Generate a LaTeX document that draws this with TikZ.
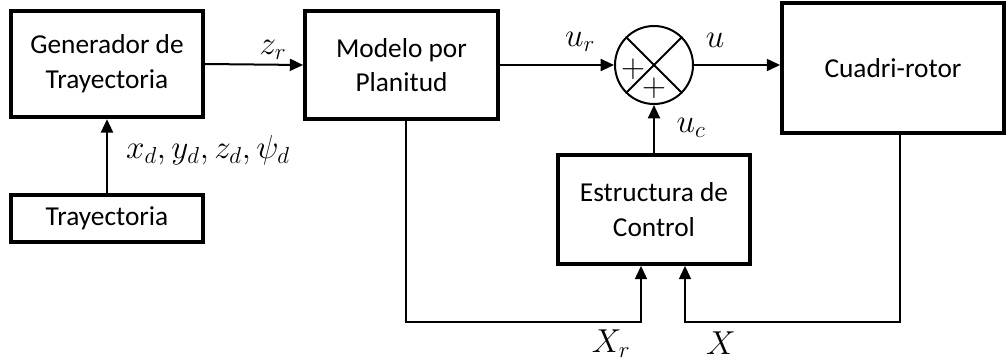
\documentclass[tikz,border=0pt]{standalone}
\usepackage{fontspec}
\setmainfont{Carlito}
\usetikzlibrary{arrows.meta,calc}
\begin{document}
\begin{tikzpicture}[x=0.75pt,y=-0.75pt,
  blk/.style={draw,line width=2.8pt,inner sep=0pt,align=center,font=\fontsize{20.5}{26}\selectfont},
  arr/.style={line width=1.5pt,-{Triangle[length=10pt,width=9pt]}},
  lbl/.style={inner sep=0pt,font=\fontsize{23}{28}\selectfont},
  plus/.style={inner sep=0pt,font=\fontsize{30}{30}\selectfont}]
\useasboundingbox (0,0) rectangle (1007,364);
\node[blk,minimum width=144pt,minimum height=80pt] (gen) at (107,64) {Generador de\\Trayectoria};
\node[blk,minimum width=144pt,minimum height=35pt] (tra) at (107,218.5) {Trayectoria};
\node[blk,minimum width=144.75pt,minimum height=81pt] (mod) at (401.5,65) {Modelo por\\Planitud};
\node[draw,circle,line width=1.5pt,minimum size=58.5pt,inner sep=0pt] (sum) at (654,65) {};
\node[blk,minimum width=166.5pt,minimum height=97.5pt] (cua) at (893,68) {Cuadri-rotor};
\node[blk,minimum width=144pt,minimum height=81.75pt] (est) at (654,209.5) {Estructura de\\Control};
\draw[line width=1.5pt] (sum.north east) -- (sum.south west) (sum.north west) -- (sum.south east);
\node[plus] (p1) at (633,69) {$+$};
\node[plus] (p2) at (654,88) {$+$};
\draw[arr] (tra.north) -- (gen.south);
\draw[arr] (gen.east) -- (mod.west);
\draw[arr] (mod.east) -- (sum.west);
\draw[arr] (sum.east) -- (cua.west |- sum.east);
\draw[arr] (est.north) -- (sum.south);
\draw[arr] ($(mod.south)+(4.5,0)$) -- ++(0,201) -| ($(est.south)+(-13,0)$);
\draw[arr] ($(cua.south)+(7,0)$) -- ++(0,187) -| ($(est.south)+(31,0)$);
\node[lbl] (zr) at (273,50) {$z_r$};
\node[lbl] (ur) at (580,42) {$u_r$};
\node[lbl] (u) at (715,40) {$u$};
\node[lbl] (uc) at (691,128) {$u_c$};
\node[lbl] (xd) at (208,150) {$x_d,y_d,z_d,\psi_d$};
\node[lbl] (xr) at (611,344) {$X_r$};
\node[lbl] (xx) at (721,343) {$X$};
\end{tikzpicture}
\end{document}
